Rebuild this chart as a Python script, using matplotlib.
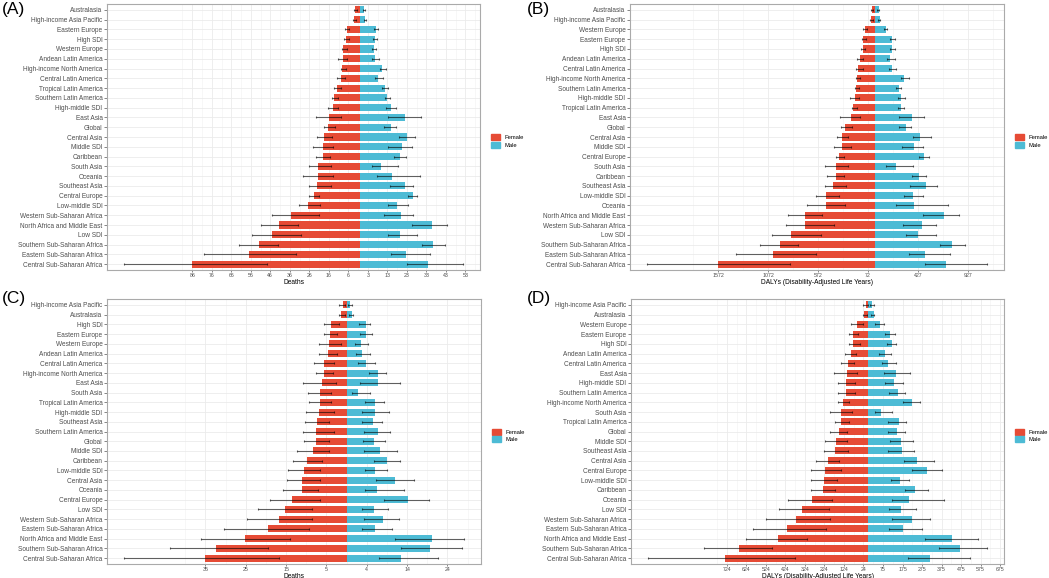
import numpy as np
import matplotlib
matplotlib.use('Agg')
import matplotlib.pyplot as plt
from matplotlib.patches import Patch

plt.rcParams['font.family'] = ['Liberation Sans', 'DejaVu Sans']

RED = '#E64B35'
BLUE = '#4DBBD5'

#panel A - deaths, regions top to bottom
regions_a = ['Australasia', 'High-income Asia Pacific', 'Eastern Europe', 'High SDI',
             'Western Europe', 'Andean Latin America', 'High-income North America',
             'Central Latin America', 'Tropical Latin America', 'Southern Latin America',
             'High-middle SDI', 'East Asia', 'Global', 'Central Asia', 'Middle SDI',
             'Caribbean', 'South Asia', 'Oceania', 'Southeast Asia', 'Central Europe',
             'Low-middle SDI', 'Western Sub-Saharan Africa', 'North Africa and Middle East',
             'Low SDI', 'Southern Sub-Saharan Africa', 'Eastern Sub-Saharan Africa',
             'Central Sub-Saharan Africa']
female_a = [2.6, 3.1, 6.8, 7.3, 8.5, 8.7, 9.2, 10.0, 11.8, 13.1, 13.6, 15.7, 16.5, 18.6,
            19.1, 19.1, 21.3, 21.5, 22.1, 23.5, 26.7, 35.4, 41.7, 45.1, 51.8, 56.9, 86.0]
female_a_in = [1.5, 2.0, 5.6, 5.6, 6.6, 6.6, 7.3, 7.8, 9.5, 11.2, 11.1, 9.7, 12.8, 14.3,
               13.6, 15.5, 14.8, 13.8, 15.1, 21.1, 20.3, 21.1, 31.7, 30.2, 42.3, 32.9, 47.7]
female_a_out = [3.1, 3.4, 7.8, 8.3, 9.4, 11.1, 9.9, 11.8, 13.1, 14.6, 16.5, 22.7, 18.7, 21.8,
                23.9, 22.8, 26.4, 29.3, 26.4, 25.9, 31.3, 45.1, 50.8, 55.3, 62.2, 80.1, 121.0]
male_a = [2.2, 2.7, 8.3, 7.8, 7.3, 7.8, 11.4, 9.0, 12.9, 14.0, 15.8, 23.3, 15.7, 23.9,
          21.6, 20.3, 10.7, 16.2, 23.0, 26.9, 18.9, 21.0, 37.0, 20.3, 37.5, 23.5, 34.6]
male_a_lo = [1.4, 1.9, 7.0, 6.6, 6.3, 6.1, 10.2, 7.8, 11.4, 12.8, 13.3, 14.5, 12.4, 20.1,
             14.5, 17.2, 6.0, 8.9, 15.5, 24.4, 14.5, 12.4, 26.4, 14.1, 31.8, 16.0, 24.2]
male_a_hi = [2.4, 2.9, 9.0, 8.9, 8.0, 9.7, 13.1, 11.6, 14.3, 15.2, 18.2, 31.0, 18.2, 28.4,
             26.4, 23.5, 19.3, 30.7, 27.4, 29.1, 24.4, 27.4, 44.8, 29.1, 43.8, 35.8, 52.8]
ticks_f_a = [86, 76, 66, 56, 46, 36, 26, 16, 6]
ticks_m_a = [3, 13, 23, 33, 43, 53]

#panel B - DALYs
regions_b = ['Australasia', 'High-income Asia Pacific', 'Western Europe', 'Eastern Europe',
             'High SDI', 'Andean Latin America', 'Central Latin America',
             'High-income North America', 'Southern Latin America', 'High-middle SDI',
             'Tropical Latin America', 'East Asia', 'Global', 'Central Asia', 'Middle SDI',
             'Central Europe', 'South Asia', 'Caribbean', 'Southeast Asia', 'Low-middle SDI',
             'Oceania', 'North Africa and Middle East', 'Western Sub-Saharan Africa',
             'Low SDI', 'Southern Sub-Saharan Africa', 'Eastern Sub-Saharan Africa',
             'Central Sub-Saharan Africa']
female_b = [37, 40, 107, 123, 127, 157, 170, 186, 193, 203, 223, 243, 303, 330, 333, 360,
            390, 390, 426, 496, 496, 706, 706, 843, 950, 1027, 1572]
female_b_in = [20, 23, 87, 97, 100, 120, 127, 153, 160, 160, 180, 157, 233, 270, 243, 316,
               270, 310, 290, 360, 306, 536, 410, 543, 777, 590, 857]
female_b_out = [47, 50, 120, 133, 140, 187, 190, 197, 207, 253, 233, 356, 343, 386, 410, 390,
                500, 483, 506, 590, 686, 873, 896, 1033, 1157, 1393, 2283]
male_b = [37, 47, 110, 170, 170, 147, 167, 290, 233, 256, 253, 363, 306, 446, 390, 483,
          206, 433, 506, 376, 383, 686, 470, 430, 766, 496, 707]
male_b_lo = [20, 30, 90, 143, 143, 113, 133, 256, 210, 223, 223, 240, 240, 373, 263, 440,
             110, 366, 343, 290, 206, 480, 280, 306, 650, 333, 493]
male_b_hi = [40, 50, 113, 193, 196, 193, 203, 333, 256, 300, 283, 483, 353, 556, 473, 536,
             373, 510, 616, 480, 723, 839, 606, 606, 896, 743, 1117]
ticks_f_b = [1572, 1072, 572, 72]
ticks_m_b = [427, 927]

#panel C - deaths
regions_c = ['High-income Asia Pacific', 'Australasia', 'High SDI', 'Eastern Europe',
             'Western Europe', 'Andean Latin America', 'Central Latin America',
             'High-income North America', 'East Asia', 'South Asia', 'Tropical Latin America',
             'High-middle SDI', 'Southeast Asia', 'Southern Latin America', 'Global',
             'Middle SDI', 'Caribbean', 'Low-middle SDI', 'Central Asia', 'Oceania',
             'Central Europe', 'Low SDI', 'Western Sub-Saharan Africa',
             'Eastern Sub-Saharan Africa', 'North Africa and Middle East',
             'Southern Sub-Saharan Africa', 'Central Sub-Saharan Africa']
female_c = [0.95, 1.3, 3.9, 4.2, 4.3, 4.7, 5.7, 5.7, 6.2, 6.5, 6.7, 6.8, 7.3, 7.5, 7.6, 8.3,
            9.9, 10.5, 11.0, 11.0, 13.6, 15.4, 16.7, 19.5, 25.2, 32.4, 35.1]
female_c_in = [0.3, 0.3, 1.9, 2.3, 1.4, 2.4, 3.1, 3.4, 2.6, 3.9, 3.9, 3.1, 4.3, 3.1, 4.3, 4.4,
               6.2, 6.6, 6.5, 7.1, 6.6, 8.6, 8.7, 9.3, 14.0, 19.6, 16.7]
female_c_out = [1.8, 1.9, 5.7, 5.6, 6.8, 6.8, 8.1, 7.7, 10.8, 9.5, 9.3, 10.0, 10.3, 10.8, 10.6,
                12.4, 13.2, 14.6, 14.8, 15.8, 18.9, 21.9, 24.8, 30.3, 36.1, 43.8, 55.2]
male_c = [0.95, 1.3, 4.7, 4.8, 3.5, 3.9, 4.9, 7.7, 7.9, 2.8, 7.0, 7.1, 6.5, 7.8, 6.7, 8.2,
          10.0, 7.1, 11.9, 7.6, 15.2, 6.7, 8.9, 7.1, 21.1, 20.7, 13.6]
male_c_lo = [0.4, 0.5, 3.1, 3.4, 2.1, 2.2, 2.8, 5.6, 3.3, 1.3, 4.5, 3.7, 3.9, 4.4, 4.0, 4.4,
             6.8, 4.6, 7.3, 4.5, 9.2, 3.9, 4.4, 3.8, 11.9, 13.6, 8.1]
male_c_hi = [1.4, 1.7, 5.8, 6.2, 5.2, 5.8, 7.1, 9.8, 13.3, 5.7, 9.3, 10.5, 8.8, 10.7, 9.4, 12.4,
             13.3, 10.0, 16.7, 14.2, 20.5, 10.2, 13.1, 11.3, 29.1, 28.5, 22.7]
ticks_f_c = [35, 25, 15, 5]
ticks_m_c = [4, 14, 24]

#panel D - DALYs
regions_d = ['High-income Asia Pacific', 'Australasia', 'Western Europe', 'Eastern Europe',
             'High SDI', 'Andean Latin America', 'Central Latin America', 'East Asia',
             'High-middle SDI', 'Southern Latin America', 'High-income North America',
             'South Asia', 'Tropical Latin America', 'Global', 'Middle SDI', 'Southeast Asia',
             'Central Asia', 'Central Europe', 'Low-middle SDI', 'Caribbean', 'Oceania',
             'Low SDI', 'Western Sub-Saharan Africa', 'Eastern Sub-Saharan Africa',
             'North Africa and Middle East', 'Southern Sub-Saharan Africa',
             'Central Sub-Saharan Africa']
female_d = [12, 19, 56, 77, 77, 90, 104, 107, 111, 116, 131, 138, 138, 151, 163, 168, 207,
            221, 226, 230, 289, 338, 371, 415, 461, 662, 735]
female_d_in = [2, 7, 26, 51, 44, 60, 71, 58, 65, 68, 99, 85, 97, 107, 109, 102, 148, 141, 158,
               168, 187, 199, 194, 214, 313, 495, 374]
female_d_out = [24, 26, 87, 99, 99, 121, 138, 173, 155, 155, 156, 194, 172, 194, 219, 224, 269,
                291, 291, 291, 413, 458, 522, 588, 628, 843, 1128]
male_d = [22, 29, 61, 112, 121, 87, 100, 143, 133, 151, 223, 66, 156, 146, 170, 175, 252, 301,
          165, 241, 211, 167, 226, 177, 430, 469, 316]
male_d_lo = [8, 14, 36, 87, 99, 56, 73, 80, 87, 107, 180, 34, 104, 102, 114, 104, 184, 226,
             117, 187, 121, 107, 121, 107, 291, 362, 206]
male_d_hi = [31, 32, 80, 138, 145, 119, 141, 214, 177, 189, 265, 124, 194, 187, 230, 233, 335,
             377, 211, 304, 388, 246, 318, 274, 561, 609, 524]
ticks_f_d = [724, 624, 524, 424, 324, 224, 124, 24]
ticks_m_d = [75, 175, 275, 375, 475, 575, 675]


def draw_panel(ax, regions, f, f_in, f_out, m, m_lo, m_hi, f_ticks, m_ticks, xlabel):
    #draws one pyramid: female bars to the left, male bars to the right
    f, f_in, f_out = np.array(f), np.array(f_in), np.array(f_out)
    m, m_lo, m_hi = np.array(m), np.array(m_lo), np.array(m_hi)
    y = np.arange(len(regions))
    ax.barh(y, -f, height=0.72, color=RED, zorder=2)
    ax.barh(y, m, height=0.72, color=BLUE, zorder=2)
    #uncertainty intervals
    err_kw = dict(fmt='none', ecolor='black', alpha=0.6, elinewidth=0.8,
                  capsize=0.9, capthick=0.8, zorder=3)
    ax.errorbar(-f, y, xerr=[f_out - f, f - f_in], **err_kw)
    ax.errorbar(m, y, xerr=[m - m_lo, m_hi - m], **err_kw)
    #x limits like ggplot expansion
    lo = -f_out.max()
    hi = m_hi.max()
    pad = 0.05 * (hi - lo)
    ax.set_xlim(lo - pad, hi + pad)
    ax.set_ylim(len(regions) - 0.4, -0.6)
    #ticks: female side mirrored, male side shifted by one
    pos = [-t for t in f_ticks] + [t + 1 for t in m_ticks]
    labels = [str(t) for t in f_ticks] + [str(t) for t in m_ticks]
    ax.set_xticks(pos)
    ax.set_xticklabels(labels)
    step = pos[1] - pos[0]
    minor = np.arange(pos[0] - step / 2, hi + pad, step)
    ax.set_xticks([v for v in minor if v > lo - pad], minor=True)
    ax.tick_params(axis='x', which='minor', length=0)
    ax.set_yticks(y)
    ax.set_yticklabels(regions)
    ax.tick_params(axis='both', which='major', length=2, width=0.5, color='#555555',
                   labelcolor='#4D4D4D', pad=1.2)
    ax.tick_params(axis='y', labelsize=4.7)
    ax.tick_params(axis='x', labelsize=3.8, length=1.5, pad=0.6)
    ax.grid(True, which='major', color='#EBEBEB', linewidth=0.6)
    ax.grid(True, which='minor', axis='x', color='#F2F2F2', linewidth=0.4)
    ax.set_axisbelow(True)
    for s in ax.spines.values():
        s.set_color('#AAAAAA')
        s.set_linewidth(0.8)
    ax.set_xlabel(xlabel, fontsize=4.8, labelpad=0.6)
    handles = [Patch(color=RED, label='Female'), Patch(color=BLUE, label='Male')]
    ax.legend(handles=handles, loc='center left', bbox_to_anchor=(1.03, 0.485),
              frameon=False, fontsize=4.2, handlelength=1.5, handleheight=1.25,
              handletextpad=0.7, labelspacing=0.25, borderaxespad=0, borderpad=0)


fig = plt.figure(figsize=(10.49, 5.78), dpi=100)
W, H = 1049.0, 578.0
#axes boxes in pixels: left, top, right, bottom
boxes = {'A': (107, 4, 480, 270), 'B': (630, 4, 1004, 270),
         'C': (107, 299, 481, 564), 'D': (631, 299, 1004, 564)}
axes = {}
for k, (l, t, r, b) in boxes.items():
    axes[k] = fig.add_axes([l / W, 1 - b / H, (r - l) / W, (b - t) / H])

draw_panel(axes['A'], regions_a, female_a, female_a_in, female_a_out,
           male_a, male_a_lo, male_a_hi, ticks_f_a, ticks_m_a, 'Deaths')
draw_panel(axes['B'], regions_b, female_b, female_b_in, female_b_out,
           male_b, male_b_lo, male_b_hi, ticks_f_b, ticks_m_b,
           'DALYs (Disability-Adjusted Life Years)')
draw_panel(axes['C'], regions_c, female_c, female_c_in, female_c_out,
           male_c, male_c_lo, male_c_hi, ticks_f_c, ticks_m_c, 'Deaths')
draw_panel(axes['D'], regions_d, female_d, female_d_in, female_d_out,
           male_d, male_d_lo, male_d_hi, ticks_f_d, ticks_m_d,
           'DALYs (Disability-Adjusted Life Years)')

#panel letters
fig.text(2 / W, 1 - 2 / H, '(A)', fontsize=12.5, va='top', ha='left')
fig.text(527 / W, 1 - 2 / H, '(B)', fontsize=12.5, va='top', ha='left')
fig.text(2 / W, 1 - 291 / H, '(C)', fontsize=12.5, va='top', ha='left')
fig.text(527 / W, 1 - 291 / H, '(D)', fontsize=12.5, va='top', ha='left')

fig.savefig('out.png', dpi=100)
